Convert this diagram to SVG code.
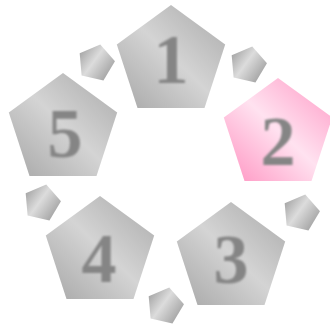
<svg xmlns="http://www.w3.org/2000/svg" xmlns:xlink="http://www.w3.org/1999/xlink" width="330" height="331" viewBox="0 0 330 331">
  <defs>
    <linearGradient id="gBig" x1="1" y1="0" x2="0" y2="1">
      <stop offset="0" stop-color="#a9a9a9"/>
      <stop offset="0.5" stop-color="#d4d4d4"/>
      <stop offset="1" stop-color="#a6a6a6"/>
    </linearGradient>
    <linearGradient id="gPink" x1="1" y1="0" x2="0" y2="1">
      <stop offset="0" stop-color="#ff98c4"/>
      <stop offset="0.5" stop-color="#ffe2f0"/>
      <stop offset="1" stop-color="#ff92c0"/>
    </linearGradient>
    <linearGradient id="gSmall" x1="0" y1="0.3" x2="1" y2="0.7">
      <stop offset="0" stop-color="#a4a4a4"/>
      <stop offset="0.45" stop-color="#dcdcdc"/>
      <stop offset="1" stop-color="#a2a2a2"/>
    </linearGradient>
    <filter id="blur" x="-20%" y="-20%" width="140%" height="140%">
      <feGaussianBlur stdDeviation="0.9"/>
    </filter>
    <polygon id="big" points="0,-57 54.2,-17.6 33.5,46.1 -33.5,46.1 -54.2,-17.6"/>
    <polygon id="small" points="0,-19 18.1,-5.9 11.2,15.4 -11.2,15.4 -18.1,-5.9" transform="rotate(13)"/>
  </defs>
  <style>
    .b { fill: url(#gBig); }
    .p { fill: url(#gPink); }
    .s { fill: url(#gSmall); }
    .n { font-family: "Liberation Serif", "DejaVu Serif", serif; font-weight: bold; font-size: 70px; fill: #858585; text-anchor: middle; filter: url(#blur); }
  </style>
  <g id="small-pentagons">
    <use xlink:href="#small" class="s" x="96" y="63"/>
    <use xlink:href="#small" class="s" x="248" y="65"/>
    <use xlink:href="#small" class="s" x="301" y="213"/>
    <use xlink:href="#small" class="s" x="165" y="306"/>
    <use xlink:href="#small" class="s" x="42" y="203"/>
  </g>
  <g id="node1">
    <use xlink:href="#big" class="b" x="171" y="62"/>
    <text class="n" x="171" y="83">1</text>
  </g>
  <g id="node2">
    <use xlink:href="#big" class="p" x="278" y="135"/>
    <text class="n" x="278" y="165">2</text>
  </g>
  <g id="node3">
    <use xlink:href="#big" class="b" x="231" y="259"/>
    <text class="n" x="231" y="283">3</text>
  </g>
  <g id="node4">
    <use xlink:href="#big" class="b" x="100" y="253"/>
    <text class="n" x="99" y="282">4</text>
  </g>
  <g id="node5">
    <use xlink:href="#big" class="b" x="63" y="130"/>
    <text class="n" x="65" y="157">5</text>
  </g>
</svg>
